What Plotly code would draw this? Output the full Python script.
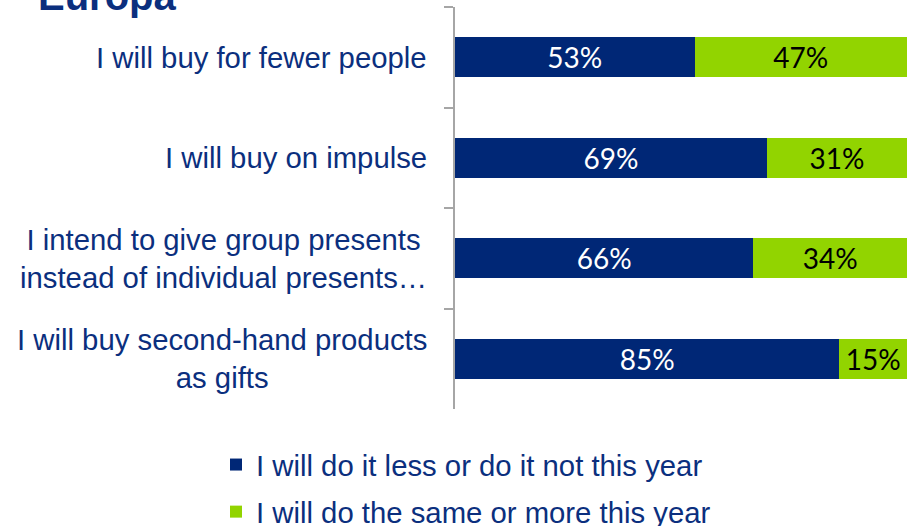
import plotly.graph_objects as go

# Survey statements (top to bottom) and shares in percent
categories = [
    "I will buy for fewer people",
    "I will buy on impulse",
    "I intend to give group presents<br>instead of individual presents…",
    "I will buy second-hand products<br>as gifts",
]
less_share = [53, 69, 66, 85]
more_share = [47, 31, 34, 15]
series_names = [
    "I will do it less or do it not this year",
    "I will do the same or more this year",
]
title_text = "Europa"

NAVY = "#002776"
GREEN = "#92D400"
TEXT_BLUE = "#0B2F7E"
AXIS_GREY = "#A6A6A6"
LABEL_FONT = "Liberation Sans, Arial, sans-serif"
VALUE_FONT = "Lato, Open Sans, sans-serif"

W, H = 913, 526
M_L, M_R, M_T, M_B = 455, 6, 7, 117
plot_w = W - M_L - M_R
plot_h = H - M_T - M_B


def px_x(px):
    return (px - M_L) / plot_w


def px_y(py):
    return (H - M_B - py) / plot_h


fig = go.Figure()
fig.add_trace(go.Bar(
    y=categories, x=less_share, orientation="h", name=series_names[0],
    legendgroup="less",
    marker=dict(color=NAVY, line=dict(width=0)),
    width=0.4,
    texttemplate="%{x}%", textposition="inside", insidetextanchor="middle",
    textfont=dict(family=VALUE_FONT, size=28, color="white"),
    constraintext="none",
))
fig.add_trace(go.Bar(
    y=categories, x=more_share, orientation="h", name=series_names[1],
    legendgroup="more",
    marker=dict(color=GREEN, line=dict(width=0)),
    width=0.4,
    texttemplate="%{x}%", textposition="inside", insidetextanchor="middle",
    textfont=dict(family=VALUE_FONT, size=28, color="black"),
    constraintext="none",
))

# Category labels, centred line by line and right-aligned against the axis
for cat in categories:
    fig.add_annotation(
        x=px_x(429), xref="paper", xanchor="right",
        y=cat, yref="y", yanchor="middle",
        text=cat, align="center", showarrow=False,
        font=dict(family=LABEL_FONT, size=29.3, color=TEXT_BLUE),
    )

# Heading
fig.add_annotation(
    x=px_x(36), xref="paper", xanchor="left",
    y=px_y(20), yref="paper", yanchor="bottom",
    text="<b>%s</b>" % title_text, showarrow=False,
    font=dict(family=LABEL_FONT, size=40, color=TEXT_BLUE),
)

fig.update_layout(
    width=W, height=H,
    margin=dict(l=M_L, r=M_R, t=M_T, b=M_B, pad=0, autoexpand=False),
    barmode="stack",
    plot_bgcolor="white", paper_bgcolor="white",
    showlegend=True,
    legend=dict(
        orientation="v",
        x=px_x(216), xanchor="left",
        y=px_y(439), yanchor="top",
        font=dict(family=LABEL_FONT, size=29.3, color=TEXT_BLUE),
        itemwidth=30,
        traceorder="grouped",
        tracegroupgap=6,
        bgcolor="rgba(0,0,0,0)",
    ),
    xaxis=dict(range=[0, 100], visible=False, fixedrange=True),
    yaxis=dict(
        type="category",
        categoryorder="array", categoryarray=categories,
        autorange="reversed",
        showticklabels=False,
        ticks="outside", tickson="boundaries", ticklen=9,
        tickcolor=AXIS_GREY, tickwidth=2,
        showline=True, linecolor=AXIS_GREY, linewidth=2,
        showgrid=False, zeroline=False,
    ),
)

fig.write_html("out.html")
